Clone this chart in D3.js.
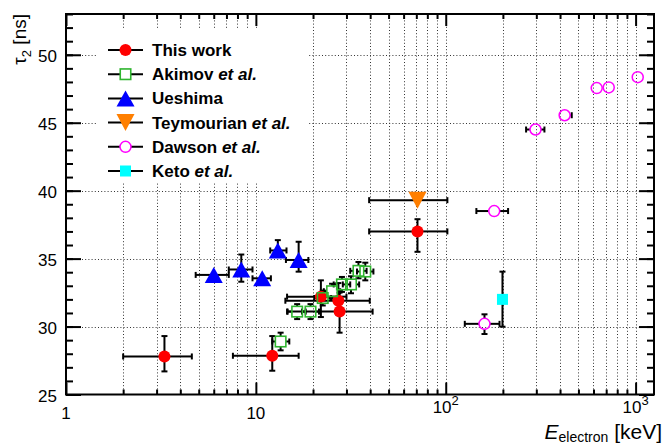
<!DOCTYPE html>
<html><head><meta charset="utf-8">
<script src="https://cdn.jsdelivr.net/npm/d3@7"></script>
<style>
body{margin:0;background:#fff}
svg{display:block}
text{font-family:"Liberation Sans",Arial,Helvetica,sans-serif;fill:#000}
</style>
</head><body>
<svg id="c" width="663" height="445"></svg>
<script>
// ---------- data ----------
// This work
const thisE    = [3.3, 12.2, 22.0, 27.2, 27.6, 71];
const thisTau  = [27.8, 27.85, 32.2, 31.9, 31.1, 37.0];
const thisElo  = [2.0, 7.57, 14.6, 14.3, 14.6, 39.5];
const thisEhi  = [4.6, 16.8, 30.0, 39.8, 41.2, 102];
const thisTlo  = [26.7, 26.75, 30.7, 30.9, 29.55, 35.5];
const thisThi  = [29.3, 29.3, 33.4, 33.2, 32.5, 37.9];
// Akimov et al.
const akiE     = [13.5, 16.5, 19.4, 22.5, 25.2, 28.4, 31.7, 34.7, 37.7];
const akiTau   = [28.9, 31.1, 31.1, 32.1, 32.6, 33.1, 33.1, 34.1, 34.05];
const akiElo   = [12.2, 14.7, 17.5, 20.3, 22.8, 25.7, 28.7, 31.4, 34.1];
const akiEhi   = [15.0, 18.3, 21.5, 24.9, 27.8, 31.4, 35.0, 38.3, 41.6];
const akiTlo   = [28.25, 30.55, 30.55, 31.55, 32.05, 32.55, 32.45, 33.55, 33.4];
const akiThi   = [29.55, 31.65, 31.65, 32.65, 33.15, 33.65, 33.7, 34.75, 34.7];
// Ueshima
const ueE      = [6.0, 8.38, 10.8, 13.05, 16.8];
const ueTau    = [33.8, 34.2, 33.55, 35.6, 34.9];
const ueElo    = [4.82, 7.2, 9.6, 11.9, 14.4];
const ueEhi    = [7.2, 9.6, 12.0, 14.5, 18.9];
const ueTlo    = [33.8, 33.3, 33.55, 35.2, 34.04];
const ueThi    = [33.8, 35.3, 33.55, 36.36, 36.24];
// Teymourian et al.
const teyE     = [71];
const teyTau   = [39.3];
const teyElo   = [39.5];
const teyEhi   = [102];
const teyTlo   = [39.3];
const teyThi   = [39.3];
// Dawson et al.
const dawE     = [160, 180, 297, 423, 624, 722, 1026];
const dawTau   = [30.2, 38.5, 44.5, 45.55, 47.55, 47.6, 48.35];
const dawElo   = [126, 145, 265, 396, 624, 722, 1026];
const dawEhi   = [192, 213, 331, 461, 624, 722, 1026];
const dawTlo   = [29.45, 38.5, 44.5, 45.55, 47.55, 47.6, 48.35];
const dawThi   = [30.9, 38.5, 44.5, 45.55, 47.55, 47.6, 48.35];
// Keto et al.
const ketoE    = [199];
const ketoTau  = [32.0];
const ketoElo  = [199];
const ketoEhi  = [199];
const ketoTlo  = [29.99];
const ketoThi  = [34.04];

// axis ticks / labels
const yMajor = [25, 30, 35, 40, 45, 50];
const yMinor = d3.range(25, 54, 1);
const xMajor = [1, 10, 100, 1000];
const xMajorLabels = [["1",""],["10",""],["10","2"],["10","3"]];
const xMinor = [2,3,4,5,6,7,8,9,20,30,40,50,60,70,80,90,200,300,400,500,600,700,800,900];

// ---------- layout ----------
const L = 66, R = 654, T = 14, B = 394.5;
const svg = d3.select("#c");
const x = d3.scaleLog().domain([1, 1250]).range([L, R]);
const y = d3.scaleLinear().domain([25, 53]).range([B, T]);

// grid
const grid = svg.append("g").attr("stroke", "#333").attr("stroke-width", 1).attr("stroke-dasharray", "1,2.2");
grid.selectAll(".gx").data(xMajor.concat(xMinor).filter(v => v > 1)).enter().append("line")
  .attr("x1", d => Math.round(x(d)) + 0.5).attr("x2", d => Math.round(x(d)) + 0.5)
  .attr("y1", T).attr("y2", B);
grid.selectAll(".gy").data(yMajor.filter(v => v > 25)).enter().append("line")
  .attr("y1", d => Math.round(y(d)) + 0.5).attr("y2", d => Math.round(y(d)) + 0.5)
  .attr("x1", L).attr("x2", R);

// legend background
svg.append("rect").attr("x", 98).attr("y", 28).attr("width", 209).attr("height", 155).attr("fill", "#fff");

// ---------- marker shapes ----------
function markerPath(type, s) {
  if (type === "triUp")   return `M0,${-s.h/2}L${s.w/2},${s.h/2}L${-s.w/2},${s.h/2}Z`;
  if (type === "triDown") return `M0,${s.h/2}L${s.w/2},${-s.h/2}L${-s.w/2},${-s.h/2}Z`;
  return "";
}
function drawMarker(g, m, cx, cy) {
  if (m.type === "circle") {
    g.append("circle").attr("cx", cx).attr("cy", cy).attr("r", m.r)
      .attr("fill", m.fill).attr("stroke", m.stroke).attr("stroke-width", m.sw || 0);
  } else if (m.type === "square") {
    g.append("rect").attr("x", cx - m.a/2).attr("y", cy - m.a/2).attr("width", m.a).attr("height", m.a)
      .attr("fill", m.fill).attr("stroke", m.stroke).attr("stroke-width", m.sw || 0);
  } else {
    g.append("path").attr("d", markerPath(m.type, m)).attr("transform", `translate(${cx},${cy})`)
      .attr("fill", m.fill).attr("stroke", m.stroke).attr("stroke-width", m.sw || 0);
  }
}

const series = [
  {name:"This work", E:thisE, tau:thisTau, Elo:thisElo, Ehi:thisEhi, Tlo:thisTlo, Thi:thisThi,
   m:{type:"circle", r:6, fill:"#ff0000", stroke:"none"}, gap:0},
  {name:"Akimov", E:akiE, tau:akiTau, Elo:akiElo, Ehi:akiEhi, Tlo:akiTlo, Thi:akiThi,
   m:{type:"square", a:10.5, fill:"none", stroke:"#2fb52f", sw:1.6}, gap:5.5},
  {name:"Ueshima", E:ueE, tau:ueTau, Elo:ueElo, Ehi:ueEhi, Tlo:ueTlo, Thi:ueThi,
   m:{type:"triUp", w:18, h:16, fill:"#0000ff", stroke:"none"}, gap:0},
  {name:"Teymourian", E:teyE, tau:teyTau, Elo:teyElo, Ehi:teyEhi, Tlo:teyTlo, Thi:teyThi,
   m:{type:"triDown", w:18, h:17, fill:"#ff7f00", stroke:"none"}, gap:0},
  {name:"Dawson", E:dawE, tau:dawTau, Elo:dawElo, Ehi:dawEhi, Tlo:dawTlo, Thi:dawThi,
   m:{type:"circle", r:5.5, fill:"none", stroke:"#ff00ff", sw:1.5}, gap:5.5},
  {name:"Keto", E:ketoE, tau:ketoTau, Elo:ketoElo, Ehi:ketoEhi, Tlo:ketoTlo, Thi:ketoThi,
   m:{type:"square", a:11, fill:"#00ffff", stroke:"none"}, gap:0},
];

const errG = svg.append("g").attr("stroke", "#000").attr("stroke-width", 2).attr("fill", "none");
const mkG = svg.append("g");
const cap = 3;
series.forEach(s => {
  s.E.forEach((e, i) => {
    const cx = x(e), cy = y(s.tau[i]);
    const xl = x(s.Elo[i]), xh = x(s.Ehi[i]), yl = y(s.Tlo[i]), yh = y(s.Thi[i]);
    if (cx - xl > s.gap + 0.5) {
      errG.append("line").attr("x1", xl).attr("x2", cx - s.gap).attr("y1", cy).attr("y2", cy);
      errG.append("line").attr("x1", xl).attr("x2", xl).attr("y1", cy - cap).attr("y2", cy + cap);
    }
    if (xh - cx > s.gap + 0.5) {
      errG.append("line").attr("x1", cx + s.gap).attr("x2", xh).attr("y1", cy).attr("y2", cy);
      errG.append("line").attr("x1", xh).attr("x2", xh).attr("y1", cy - cap).attr("y2", cy + cap);
    }
    if (yl - cy > s.gap + 0.5) {
      errG.append("line").attr("x1", cx).attr("x2", cx).attr("y1", cy + s.gap).attr("y2", yl);
      errG.append("line").attr("x1", cx - cap).attr("x2", cx + cap).attr("y1", yl).attr("y2", yl);
    }
    if (cy - yh > s.gap + 0.5) {
      errG.append("line").attr("x1", cx).attr("x2", cx).attr("y1", yh).attr("y2", cy - s.gap);
      errG.append("line").attr("x1", cx - cap).attr("x2", cx + cap).attr("y1", yh).attr("y2", yh);
    }
  });
});
series.forEach(s => {
  s.E.forEach((e, i) => drawMarker(mkG, s.m, x(e), y(s.tau[i])));
});

// ---------- axes (ticks inward on all four sides) ----------
function styleAxis(g) {
  g.select(".domain").remove();
  g.selectAll("line").attr("stroke", "#000").attr("stroke-width", 2);
  g.selectAll("text").remove();
}
svg.append("g").attr("transform", `translate(0,${B})`).call(d3.axisBottom(x).tickValues(xMajor).tickSize(-12).tickFormat("")).call(styleAxis);
svg.append("g").attr("transform", `translate(0,${B})`).call(d3.axisBottom(x).tickValues(xMinor).tickSize(-5).tickFormat("")).call(styleAxis);
svg.append("g").attr("transform", `translate(0,${T})`).call(d3.axisTop(x).tickValues(xMajor).tickSize(-12).tickFormat("")).call(styleAxis);
svg.append("g").attr("transform", `translate(0,${T})`).call(d3.axisTop(x).tickValues(xMinor).tickSize(-5).tickFormat("")).call(styleAxis);
svg.append("g").attr("transform", `translate(${L},0)`).call(d3.axisLeft(y).tickValues(yMajor).tickSize(-15).tickFormat("")).call(styleAxis);
svg.append("g").attr("transform", `translate(${L},0)`).call(d3.axisLeft(y).tickValues(yMinor).tickSize(-7).tickFormat("")).call(styleAxis);
svg.append("g").attr("transform", `translate(${R},0)`).call(d3.axisRight(y).tickValues(yMajor).tickSize(-15).tickFormat("")).call(styleAxis);
svg.append("g").attr("transform", `translate(${R},0)`).call(d3.axisRight(y).tickValues(yMinor).tickSize(-7).tickFormat("")).call(styleAxis);

// frame
svg.append("rect").attr("x", L).attr("y", T).attr("width", R - L).attr("height", B - T)
  .attr("fill", "none").attr("stroke", "#000").attr("stroke-width", 2);

// y labels
svg.append("g").selectAll("text").data(yMajor).enter().append("text")
  .attr("x", 57).attr("y", d => y(d) + 7.5).attr("text-anchor", "end")
  .attr("font-size", 17).text(d => d);

// x labels
xMajor.forEach((v, i) => {
  const [base, exp] = xMajorLabels[i];
  const t = svg.append("text").attr("x", x(v)).attr("text-anchor", "middle").attr("font-size", 17);
  if (exp) {
    t.attr("y", 413);
    t.append("tspan").text(base);
    t.append("tspan").attr("dy", -8).attr("font-size", 13).text(exp);
  } else {
    t.attr("y", 418.5).text(base);
  }
});

// axis titles
const xt = svg.append("text").attr("x", 662).attr("y", 439).attr("text-anchor", "end").attr("font-size", 21);
xt.append("tspan").attr("font-style", "italic").text("E");
xt.append("tspan").attr("font-size", 14).attr("dy", 3).text("electron");
xt.append("tspan").attr("dy", -3).text(" [keV]");

const yt = svg.append("text").attr("transform", "translate(26,14) rotate(-90)").attr("text-anchor", "end").attr("font-size", 19);
yt.append("tspan").text("τ");
yt.append("tspan").attr("font-size", 13).attr("dy", 5).text("2");
yt.append("tspan").attr("dy", -5).text(" [ns]");

// ---------- legend ----------
const legendNames = [["This work",""],["Akimov ","et al."],["Ueshima",""],["Teymourian ","et al."],["Dawson ","et al."],["Keto ","et al."]];
const lg = svg.append("g");
series.forEach((s, i) => {
  const ly = 50 + i * 24.2;
  lg.append("line").attr("x1", 108).attr("x2", 143).attr("y1", ly).attr("y2", ly)
    .attr("stroke", "#000").attr("stroke-width", 2);
  if (s.gap > 0) {
    lg.append("rect").attr("x", 125.5 - s.gap).attr("y", ly - s.gap).attr("width", 2*s.gap).attr("height", 2*s.gap).attr("fill", "#fff");
  }
  drawMarker(lg, s.m, 125.5, ly);
  const t = lg.append("text").attr("x", 152).attr("y", ly + 6).attr("font-size", 17).attr("font-weight", "bold");
  t.append("tspan").text(legendNames[i][0]);
  if (legendNames[i][1]) t.append("tspan").attr("font-style", "italic").text(legendNames[i][1]);
});
</script>
</body></html>
